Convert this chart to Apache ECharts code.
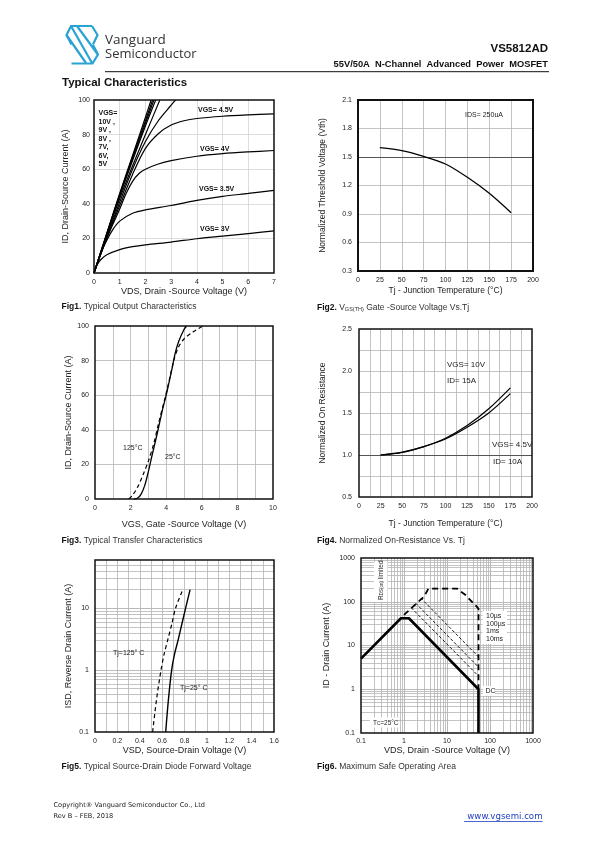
<!DOCTYPE html>
<html><head><meta charset="utf-8">
<script src="https://cdn.jsdelivr.net/npm/echarts@6/dist/echarts.min.js"></script>
<style>html,body{margin:0;padding:0;background:#fff}#c{width:595px;height:842px}</style>
</head><body><div id="c"></div>
<script>
// ---------- DATA ----------
// Fig1: Output characteristics, [VDS (V), ID (A)]
const fig1_vgs10 = [[0,0],[0.5,23],[1,46],[1.5,68],[2,90],[2.22,100]];
const fig1_vgs9  = [[0,0],[0.5,23],[1,45.5],[1.5,67],[2,88],[2.28,100]];
const fig1_vgs8  = [[0,0],[0.5,22.5],[1,45],[1.5,66],[2,86.5],[2.33,100]];
const fig1_vgs7  = [[0,0],[0.5,22.5],[1,44.5],[1.5,65],[2,85],[2.4,100]];
const fig1_vgs6  = [[0,0],[0.5,22],[1,43],[1.5,62],[2,80],[2.56,100]];
const fig1_vgs5  = [[0,0],[0.5,21],[1,41],[1.5,60],[2,76],[2.5,88],[3,97],[3.17,100]];
const fig1_vgs45 = [[0,0],[0.5,20.5],[1,39],[1.5,57],[2,72],[2.5,80.5],[3,85.5],[3.5,88],[4,89.3],[5,90.6],[6,91.4],[7,92]];
const fig1_vgs4  = [[0,0],[0.5,20],[1,37],[1.25,46],[1.5,53],[1.75,57.5],[2,60],[2.5,63],[3,65],[4,67.5],[5,69],[6,70],[7,70.8]];
const fig1_vgs35 = [[0,0],[0.25,11],[0.5,19],[0.75,25.5],[1,30],[1.5,34.5],[2,36.5],[3,39],[4,42],[5,44.3],[6,46],[7,47.8]];
const fig1_vgs3  = [[0,0],[0.1,4],[0.25,7.5],[0.5,10.5],[1,13.5],[1.5,15.2],[2,16.3],[3,17.9],[4,19.8],[5,21.3],[6,22.8],[7,24.3]];

// Fig2: Normalized threshold voltage vs Tj
const fig2_tj  = [25,50,75,100,125,150,175];
const fig2_vth = [1.598,1.567,1.507,1.426,1.286,1.118,0.914];

// Fig3: Transfer characteristics, [VGS (V), ID (A)]
const fig3_t25  = [[2.2,0],[2.4,0.6],[2.6,3],[2.8,8],[3.0,16],[3.2,25],[3.5,38],[3.8,52],[4.0,60],[4.3,74],[4.5,84],[4.7,91],[5.0,98],[5.15,100]];
const fig3_t125 = [[1.9,0],[2.1,2],[2.4,7],[2.7,14],[3.0,22],[3.3,32],[3.6,45],[3.9,57],[4.2,70],[4.45,81],[4.7,88],[5.0,92.5],[5.5,96.5],[6.05,100]];

// Fig4: Normalized on-resistance vs Tj
const fig4_tj    = [25,50,75,100,125,150,175];
const fig4_vgs10 = [1.0,1.035,1.10,1.20,1.35,1.55,1.80];
const fig4_vgs45 = [1.0,1.03,1.10,1.19,1.33,1.50,1.73];

// Fig5: Source-drain diode forward voltage, [VSD (V), ISD (A)]
const fig5_t125 = [[0.515,0.1],[0.548,0.316],[0.59,1],[0.617,1.78],[0.652,3.16],[0.687,5.6],[0.72,10],[0.785,20]];
const fig5_t25  = [[0.632,0.1],[0.655,0.316],[0.685,1],[0.71,1.78],[0.745,3.16],[0.777,5.6],[0.81,10],[0.85,20]];

// Fig6: Safe operating area, [VDS (V), ID (A)]
const fig6_dc    = [[0.1,5],[0.85,42],[1.3,42],[54,1],[54,0.1]];
const fig6_10us  = [[1.0,50],[2.9,130],[3.7,200],[17,200],[27,142],[54,70],[54,1]];
const fig6_100us = [[2.45,122],[54,5.5]];
const fig6_1ms   = [[1.86,93],[54,3.2]];
const fig6_10ms  = [[1.47,73],[54,2.0]];
const fig6_pulse = ['10\u00b5s','100\u00b5s','1ms','10ms'];

// ---------- STYLE / LAYOUT ----------
const F = "'Liberation Sans', Arial, sans-serif";
const N = "'Liberation Sans Narrow', 'Liberation Sans', Arial, sans-serif";
const grids = [
  {left:94, top:100, width:180, height:173},
  {left:358, top:100, width:175, height:171},
  {left:95, top:326, width:178, height:173},
  {left:359, top:329, width:173, height:168},
  {left:95, top:560, width:179, height:172},
  {left:361, top:558, width:172, height:175}
];
const lab = (o) => Object.assign({fontSize:7, color:'#222', fontFamily:N}, o||{});
const nm = {fontSize:9, color:'#222', fontFamily:F};
function vAxis(gi, min, max, interval, o) {
  return Object.assign({
    type:'value', gridIndex:gi, min, max, interval,
    axisLine:{show:false}, axisTick:{show:false},
    axisLabel: lab(), nameLocation:'middle', nameTextStyle:nm,
    splitLine:{show:true, showMinLine:false, showMaxLine:false, lineStyle:{color:'#b4b4b4', width:0.8}}
  }, o||{});
}
function lAxis(gi, min, max, o) {
  return Object.assign({
    type:'log', logBase:10, gridIndex:gi, min, max,
    axisLine:{show:false}, axisTick:{show:false},
    axisLabel: lab({formatter: v => String(Number(v.toPrecision(6)))}),
    nameLocation:'middle', nameTextStyle:nm,
    splitLine:{show:true, showMinLine:false, showMaxLine:false, lineStyle:{color:'#a8a8a8', width:0.8}}
  }, o||{});
}
const minor = {minorTick:{show:false, splitNumber:2}, minorSplitLine:{show:true, lineStyle:{color:'#b4b4b4', width:0.8}}};

const xAxis = [
  vAxis(0,0,7,1,{name:'VDS, Drain -Source Voltage (V)', nameGap:13, axisLabel:lab({margin:6}), splitLine:{show:true, showMinLine:false, showMaxLine:false, lineStyle:{color:'#d4d4d4', width:0.8}}}),
  vAxis(1,0,200,25,{name:'Tj - Junction Temperature (\u00b0C)', nameGap:15, nameTextStyle:Object.assign({},nm,{fontSize:8.5}), axisLabel:lab({margin:6})}),
  Object.assign(vAxis(2,0,10,2,{name:'VGS, Gate -Source Voltage (V)', nameGap:21, axisLabel:lab({margin:6})}), minor),
  Object.assign(vAxis(3,0,200,25,{name:'Tj - Junction Temperature (\u00b0C)', nameGap:22, nameTextStyle:Object.assign({},nm,{fontSize:8.5}), axisLabel:lab({margin:6})}), minor),
  Object.assign(vAxis(4,0,1.6,0.2,{name:'VSD, Source-Drain Voltage (V)', nameGap:14, axisLabel:lab({margin:6})}), minor),
  lAxis(5,0.1,1000,{name:'VDS, Drain -Source Voltage (V)', nameGap:12, axisLabel:lab({margin:5, formatter: v => String(Number(v.toPrecision(6)))})})
];
const yAxis = [
  vAxis(0,0,100,20,{name:'ID, Drain-Source Current (A)', nameGap:24, axisLabel:lab({margin:4}), splitLine:{show:true, showMinLine:false, showMaxLine:false, lineStyle:{color:'#d4d4d4', width:0.8}}}),
  vAxis(1,0.3,2.1,0.3,{name:'Normalized Threshold Voltage (Vth)', nameGap:31, nameTextStyle:Object.assign({},nm,{fontSize:8.5}), axisLabel:lab({margin:6, formatter: v => String(Number(v.toFixed(1)))})}),
  vAxis(2,0,100,20,{name:'ID, Drain-Source Current (A)', nameGap:21, axisLabel:lab({margin:6})}),
  Object.assign(vAxis(3,0.5,2.5,0.5,{name:'Normalized On Resistance', nameGap:32, nameTextStyle:Object.assign({},nm,{fontSize:8.5}), axisLabel:lab({margin:7, formatter: v => v.toFixed(1)})}), minor),
  lAxis(4,0.1,60,{name:'ISD, Reverse Drain Current (A)', nameGap:22, axisLabel:lab({margin:6, showMaxLabel:false, formatter: v => String(Number(v.toPrecision(6)))})}),
  lAxis(5,0.1,1000,{name:'ID - Drain Current (A)', nameGap:30, axisLabel:lab({margin:6, formatter: v => String(Number(v.toPrecision(6)))})})
];

// log minor gridline values
function logMinor(lo, hi) {
  const out = [];
  for (let d = lo; d < hi; d *= 10) for (let k = 2; k <= 9; k++) { const v = Number((k*d).toPrecision(6)); if (v < hi) out.push(v); }
  return out;
}
function gridSeries(i, pt, lines, color, width) {
  return {type:'line', xAxisIndex:i, yAxisIndex:i, data:[pt], symbol:'none', silent:true, z:1,
    lineStyle:{opacity:0}, animation:false,
    markLine:{silent:true, symbol:['none','none'], label:{show:false}, animation:false,
      lineStyle:{color:color, width:width, type:'solid'}, emphasis:{disabled:true}, data:lines}};
}
function curve(i, data, o) {
  return Object.assign({type:'line', xAxisIndex:i, yAxisIndex:i, data, symbol:'none', smooth:0.3, silent:true, z:5,
    lineStyle:{color:'#000', width:1.2}, animation:false}, o||{});
}
const dash = (w, d) => ({color:'#000', width:w, type:d});

const series = [
  gridSeries(1, [100,1], [{yAxis:1.5}], '#555', 1.1),
  gridSeries(3, [100,1], [{yAxis:1.0}], '#555', 1.1),
  gridSeries(4, [0.5,1], logMinor(0.1,60).map(v => ({yAxis:v})), '#b4b4b4', 0.8),
  gridSeries(5, [1,1], logMinor(0.1,1000).map(v => ({yAxis:v})).concat(logMinor(0.1,1000).map(v => ({xAxis:v}))), '#b4b4b4', 0.8),
  // Fig1
  curve(0, fig1_vgs10), curve(0, fig1_vgs9), curve(0, fig1_vgs8), curve(0, fig1_vgs7), curve(0, fig1_vgs6),
  curve(0, fig1_vgs5), curve(0, fig1_vgs45), curve(0, fig1_vgs4), curve(0, fig1_vgs35), curve(0, fig1_vgs3),
  // Fig2
  curve(1, fig2_tj.map((t,i)=>[t, fig2_vth[i]]), {lineStyle:{color:'#000', width:1.3}}),
  // Fig3
  curve(2, fig3_t25, {lineStyle:{color:'#000', width:1.3}}),
  curve(2, fig3_t125, {lineStyle:dash(1.2,[4,3])}),
  // Fig4
  curve(3, fig4_tj.map((t,i)=>[t, fig4_vgs10[i]]), {lineStyle:{color:'#000', width:1.2}}),
  curve(3, fig4_tj.map((t,i)=>[t, fig4_vgs45[i]]), {lineStyle:{color:'#000', width:1.2}}),
  // Fig5
  curve(4, fig5_t25, {lineStyle:{color:'#000', width:1.4}}),
  curve(4, fig5_t125, {lineStyle:dash(1.2,[4,3])}),
  // Fig6
  curve(5, fig6_dc, {smooth:false, lineStyle:{color:'#000', width:2.6}}),
  curve(5, fig6_10us, {smooth:false, lineStyle:dash(1.8,[6,4])}),
  curve(5, fig6_100us, {smooth:false, lineStyle:dash(0.9,[3,2])}),
  curve(5, fig6_1ms, {smooth:false, lineStyle:dash(0.9,[3,2])}),
  curve(5, fig6_10ms, {smooth:false, lineStyle:dash(0.9,[3,2])})
];

// ---------- GRAPHIC TEXTS ----------
const G = [];
function T(x, y, s, o) {
  G.push({type:'text', x, y, z:100, silent:true,
    style:Object.assign({text:s, fill:'#222', fontSize:7, fontFamily:F, align:'left', verticalAlign:'middle'}, o||{})});
}
function R(x, y, w, h, fill, stroke, lw) {
  G.push({type:'rect', z:90, silent:true, shape:{x, y, width:w, height:h},
    style:{fill:fill||'none', stroke:stroke||null, lineWidth:lw||1}});
}
grids.forEach((g,i) => R(g.left, g.top, g.width, g.height, 'none', '#111', i===1?2:1.5));

// header logo
const logoC = '#2aa3d3';
[
  [[92,26],[71,26],[66.5,35],[71.5,44.5]],
  [[71,26],[92,63]],
  [[77,26],[97.5,54]],
  [[66.5,35],[86,63]],
  [[71.5,63.5],[92.5,63.5],[98,54.5],[93,45]],
  [[92,26],[97.5,35],[93,44.5]]
].forEach(p => G.push({type:'polyline', z:100, silent:true, shape:{points:p}, style:{stroke:logoC, lineWidth:2.2, fill:'none'}}));
T(105, 40, 'Vanguard', {fontSize:13.5, fontFamily:"'Open Sans', 'Noto Sans', sans-serif", fill:'#333'});
T(105, 54.5, 'Semiconductor', {fontSize:13, fontFamily:"'Open Sans', 'Noto Sans', sans-serif", fill:'#333'});
T(548, 48.5, 'VS5812AD', {fontSize:11.5, fontWeight:'bold', align:'right', fill:'#111'});
T(548, 64.5, '55V/50A  N-Channel  Advanced  Power  MOSFET', {fontSize:9.3, fontWeight:'bold', align:'right', fill:'#111'});
G.push({type:'line', z:100, silent:true, shape:{x1:105, y1:71.7, x2:549, y2:71.7}, style:{stroke:'#111', lineWidth:1}});
T(62, 82.5, 'Typical Characteristics', {fontSize:11.5, fontWeight:'bold', fill:'#111'});

// Fig1 labels
const b7 = {fontSize:7, fontWeight:'bold', fontFamily:N, fill:'#111'};
['VGS=','10V ,','9V ,','8V ,','7V,','6V,','5V'].forEach((s,i) => T(98.5, 113.5 + i*8.5, s, b7));
T(198, 110, 'VGS= 4.5V', b7);
T(200, 149, 'VGS= 4V', b7);
T(199, 189, 'VGS= 3.5V', b7);
T(200, 229, 'VGS= 3V', b7);
// Fig2
T(465, 115, 'IDS= 250uA', {fontSize:7, fontFamily:N});
// Fig3
T(123, 448, '125\u00b0C', {fontSize:7, fontFamily:N});
T(165, 457, '25\u00b0C', {fontSize:7, fontFamily:N});
// Fig4
const n8 = {fontSize:8, fontFamily:N, fill:'#222'};
T(447, 365, 'VGS= 10V', n8);
T(447, 381, 'ID= 15A', n8);
T(492, 445, 'VGS= 4.5V', n8);
T(493, 461.5, 'ID= 10A', n8);
// Fig5
T(113, 653, 'Tj=125\u00b0 C', {fontSize:7, fontFamily:N});
T(180, 688, 'Tj=25\u00b0 C', {fontSize:7, fontFamily:N});
// Fig6
R(482.5, 611, 24.5, 33, '#fff');
fig6_pulse.forEach((s,i) => T(486, 616 + i*7.6, s, {fontSize:7, fontFamily:N}));
R(483, 686, 12, 10, '#fff');
T(485.5, 691, 'DC', {fontSize:7, fontFamily:N});
R(374, 562, 13.5, 40, '#fff');
G.push({type:'text', x:381, y:600, rotation:Math.PI/2, z:100, silent:true,
  style:{text:'R{s|DS(on)} limited', fill:'#222', fontSize:6.5, fontFamily:N, align:'left', verticalAlign:'middle',
    rich:{s:{fontSize:4.5, fontFamily:N, fill:'#222', verticalAlign:'bottom', lineHeight:5}}}});
R(370, 717.5, 28, 10, '#fff');
G.push({type:'text', x:373, y:723, z:100, silent:true,
  style:{text:'T{s|C}=25\u00b0C', fill:'#222', fontSize:6.5, fontFamily:N, align:'left', verticalAlign:'middle',
    rich:{s:{fontSize:4.5, fontFamily:N, fill:'#222', verticalAlign:'bottom', lineHeight:5}}}});

// captions
function cap(x, y, s) {
  G.push({type:'text', x, y, z:100, silent:true,
    style:{text:s, fill:'#333', fontSize:8.5, fontFamily:F, align:'left', verticalAlign:'middle',
      rich:{b:{fontWeight:'bold', fontSize:8.5, fontFamily:F, fill:'#111', lineHeight:10},
            n:{fontSize:8.5, fontFamily:F, fill:'#333', lineHeight:10},
            s:{fontSize:5.5, fontFamily:F, fill:'#333', verticalAlign:'bottom', lineHeight:6}}}});
}
cap(61.5, 307, '{b|Fig1.}{n| Typical Output Characteristics}');
cap(317, 307.5, '{b|Fig2.}{n| V}{s|GS(TH)}{n| Gate -Source Voltage Vs.Tj}');
cap(61.5, 541, '{b|Fig3.}{n| Typical Transfer Characteristics}');
cap(317, 541, '{b|Fig4.}{n| Normalized On-Resistance Vs. Tj}');
cap(61.5, 767, '{b|Fig5.}{n| Typical Source-Drain Diode Forward Voltage}');
cap(317, 767, '{b|Fig6.}{n| Maximum Safe Operating Area}');

// footer
T(53.5, 805.5, 'Copyright\u00ae Vanguard Semiconductor Co., Ltd', {fontSize:6.6, fontFamily:"'DejaVu Sans', sans-serif", fill:'#222'});
T(53.5, 816, 'Rev B \u2013 FEB, 2018', {fontSize:6.6, fontFamily:"'DejaVu Sans', sans-serif", fill:'#222'});
T(542.5, 816.5, 'www.vgsemi.com', {fontSize:8.6, fontFamily:"'DejaVu Sans', sans-serif", fill:'#1f3fc0', align:'right'});
G.push({type:'line', z:100, silent:true, shape:{x1:464, y1:821.5, x2:542.5, y2:821.5}, style:{stroke:'#1f3fc0', lineWidth:0.8}});

const option = {
  animation:false,
  backgroundColor:'#fff',
  grid: grids.map(g => Object.assign({show:false, containLabel:false}, g)),
  xAxis, yAxis, series,
  graphic: G
};
const chart = echarts.init(document.getElementById('c'), null, {renderer:'canvas', width:595, height:842});
chart.setOption(option);
</script>
</body></html>
